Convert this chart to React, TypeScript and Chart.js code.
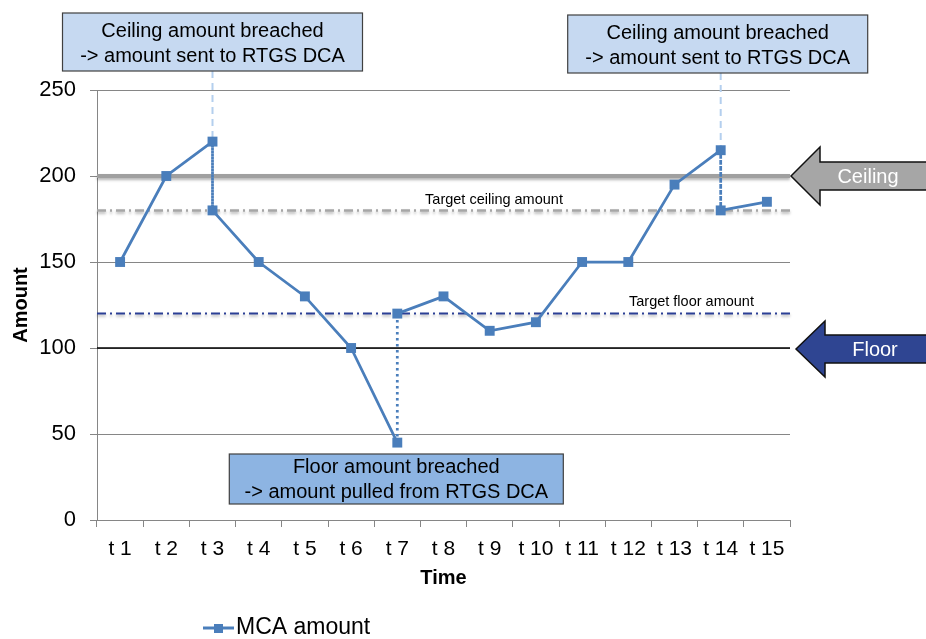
import React, { useEffect, useRef } from 'react';
import { Chart, registerables } from 'chart.js';

Chart.register(...registerables);

// ---------- data ----------
const categories = ['t 1', 't 2', 't 3', 't 4', 't 5', 't 6', 't 7', 't 8', 't 9', 't 10', 't 11', 't 12', 't 13', 't 14', 't 15'];
const pointTimes = ['t 1', 't 2', 't 3', 't 3', 't 4', 't 5', 't 6', 't 7', 't 7', 't 8', 't 9', 't 10', 't 11', 't 12', 't 13', 't 14', 't 14', 't 15'];
const mcaAmounts = [150, 200, 220, 180, 150, 130, 100, 45, 120, 130, 110, 115, 150, 150, 195, 215, 180, 185];
const seriesName = 'MCA amount';
const yMin = 0;
const yMax = 250;
const yStep = 50;
const ceilingAmount = 200;
const targetCeilingAmount = 180;
const targetFloorAmount = 120;
const floorAmount = 100;
const breachCeilingTimes = ['t 3', 't 14'];
const breachFloorTime = 't 7';
const ceilingBoxLines = ['Ceiling amount breached', '-> amount sent to RTGS DCA'];
const floorBoxLines = ['Floor amount breached', '-> amount pulled from RTGS DCA'];

const FONT = '"Liberation Sans", Arial, sans-serif';
const SERIES_COLOR = '#4a7ebb';

const overlayPlugin = {
  id: 'overlay',
  beforeDatasetsDraw(chart: any) {
    const { ctx, chartArea: a, scales } = chart;
    const y = scales.y;
    const hline = (v: number, color: string, width: number, dash: number[], shadow: boolean) => {
      const py = y.getPixelForValue(v);
      ctx.save();
      if (shadow) {
        ctx.shadowColor = 'rgba(0,0,0,0.3)';
        ctx.shadowBlur = 3;
        ctx.shadowOffsetY = 2;
      }
      ctx.strokeStyle = color;
      ctx.lineWidth = width;
      ctx.setLineDash(dash);
      ctx.beginPath();
      ctx.moveTo(a.left, py);
      ctx.lineTo(a.right, py);
      ctx.stroke();
      ctx.restore();
    };
    hline(floorAmount, '#000000', 1.3, [], false);
    hline(targetFloorAmount, '#2b3f95', 2, [9, 4, 2, 4], true);
    hline(targetCeilingAmount, '#a6a6a6', 2.5, [9, 4, 2, 4], true);
    hline(ceilingAmount, '#a0a0a0', 4, [], true);

    ctx.save();
    ctx.fillStyle = '#000';
    ctx.font = `14.5px ${FONT}`;
    ctx.textBaseline = 'middle';
    ctx.textAlign = 'center';
    ctx.fillText('Target ceiling amount', 494, y.getPixelForValue(targetCeilingAmount) - 10);
    ctx.textAlign = 'left';
    ctx.fillText('Target floor amount', 629, y.getPixelForValue(targetFloorAmount) - 12);
    ctx.restore();

    // connectors from ceiling boxes to breach points
    const meta = chart.getDatasetMeta(0);
    ctx.save();
    ctx.strokeStyle = '#b4cfee';
    ctx.lineWidth = 2;
    ctx.setLineDash([7, 5]);
    breachCeilingTimes.forEach((t, i) => {
      const idx = pointTimes.indexOf(t);
      const p = meta.data[idx];
      const top = i === 0 ? 71 : 73;
      ctx.beginPath();
      ctx.moveTo(p.x, top);
      ctx.lineTo(p.x, p.y);
      ctx.stroke();
    });
    ctx.restore();
  },
  afterDraw(chart: any) {
    const { ctx, scales } = chart;
    const x = scales.x;
    const y = scales.y;

    // arrows
    const arrow = (tipX: number, cy: number, headX: number, headHalf: number, shaftHalf: number, fill: string, label: string, textX: number) => {
      ctx.save();
      ctx.beginPath();
      ctx.moveTo(tipX, cy);
      ctx.lineTo(headX, cy - headHalf);
      ctx.lineTo(headX, cy - shaftHalf);
      ctx.lineTo(930, cy - shaftHalf);
      ctx.lineTo(930, cy + shaftHalf);
      ctx.lineTo(headX, cy + shaftHalf);
      ctx.lineTo(headX, cy + headHalf);
      ctx.closePath();
      ctx.fillStyle = fill;
      ctx.fill();
      ctx.strokeStyle = '#111';
      ctx.lineWidth = 1.5;
      ctx.stroke();
      ctx.fillStyle = '#fff';
      ctx.font = `20px ${FONT}`;
      ctx.textAlign = 'center';
      ctx.textBaseline = 'middle';
      ctx.fillText(label, textX, cy + 1);
      ctx.restore();
    };
    const cy = y.getPixelForValue(ceilingAmount);
    arrow(791, cy, 820, 29, 14, '#a6a6a6', 'Ceiling', 868);
    const fy = y.getPixelForValue(floorAmount);
    arrow(796, fy + 1, 825, 28, 14, '#2f4592', 'Floor', 875);

    // boxes
    const box = (cx: number, top: number, w: number, h: number, fill: string, lines: string[], lineYs: number[]) => {
      ctx.save();
      ctx.fillStyle = fill;
      ctx.fillRect(cx - w / 2, top, w, h);
      ctx.strokeStyle = '#404040';
      ctx.lineWidth = 1.2;
      ctx.strokeRect(cx - w / 2, top, w, h);
      ctx.fillStyle = '#000';
      ctx.font = `20px ${FONT}`;
      ctx.textAlign = 'center';
      ctx.textBaseline = 'middle';
      lines.forEach((l, i) => ctx.fillText(l, cx, lineYs[i]));
      ctx.restore();
    };
    const c1 = x.getPixelForValue(categories.indexOf(breachCeilingTimes[0]));
    const c2 = x.getPixelForValue(categories.indexOf(breachCeilingTimes[1]));
    const c3 = x.getPixelForValue(categories.indexOf(breachFloorTime));
    box(c1, 13, 300, 58, '#c6d9f1', ceilingBoxLines, [31, 56]);
    box(c2 - 3, 15, 300, 58, '#c6d9f1', ceilingBoxLines, [33, 58]);
    box(c3 - 1, 454, 334, 50, '#8db4e2', floorBoxLines, [467, 492]);

    // legend
    ctx.save();
    ctx.strokeStyle = SERIES_COLOR;
    ctx.lineWidth = 3;
    ctx.beginPath();
    ctx.moveTo(203, 628);
    ctx.lineTo(234, 628);
    ctx.stroke();
    ctx.fillStyle = SERIES_COLOR;
    ctx.fillRect(214, 624, 9, 9);
    ctx.fillStyle = '#000';
    ctx.font = `23px ${FONT}`;
    ctx.textAlign = 'left';
    ctx.textBaseline = 'middle';
    ctx.fillText(seriesName, 236, 628);
    ctx.restore();
  },
};

export default function App() {
  const ref = useRef<HTMLCanvasElement>(null);
  useEffect(() => {
    if (!ref.current) return;
    const chart = new Chart(ref.current, {
      type: 'line',
      data: {
        labels: categories,
        datasets: [
          {
            label: seriesName,
            data: pointTimes.map((t, i) => ({ x: t, y: mcaAmounts[i] })) as any,
            borderColor: SERIES_COLOR,
            backgroundColor: SERIES_COLOR,
            borderWidth: 2.75,
            pointStyle: 'rect',
            pointRadius: 7,
            pointBorderWidth: 0,
            pointBackgroundColor: SERIES_COLOR,
            tension: 0,
            segment: {
              borderDash: (c: any) => (c.p0.parsed.x === c.p1.parsed.x ? [2.5, 3.5] : undefined),
            },
          },
        ],
      },
      options: {
        responsive: false,
        animation: false,
        devicePixelRatio: 1,
        layout: { padding: { left: 0, top: 90, right: 136, bottom: 0 } },
        plugins: { legend: { display: false }, tooltip: { enabled: false } },
        scales: {
          x: {
            type: 'category',
            labels: categories,
            offset: true,
            grid: { offset: true, drawOnChartArea: false, drawTicks: true, tickLength: 7, color: '#868686' },
            border: { color: '#868686', width: 1 },
            ticks: { font: { family: FONT, size: 21 }, color: '#000', padding: 10, autoSkip: false, maxRotation: 0 },
            title: { display: true, text: 'Time', font: { family: FONT, size: 20, weight: 'bold' }, color: '#000', padding: { top: 0, bottom: 49 } },
            afterFit(s: any) {
              s.height = 119;
            },
          },
          y: {
            min: yMin,
            max: yMax,
            ticks: { stepSize: yStep, font: { family: FONT, size: 22 }, color: '#000', padding: 14 },
            grid: { color: '#868686', tickLength: 7, drawTicks: true },
            border: { color: '#868686', width: 1 },
            title: { display: true, text: 'Amount', font: { family: FONT, size: 20, weight: 'bold' }, color: '#000', padding: { top: 9, bottom: 0 } },
            afterFit(s: any) {
              s.width = 97;
            },
          },
        },
      },
      plugins: [overlayPlugin],
    });
    return () => chart.destroy();
  }, []);
  return (
    <div style={{ position: 'fixed', left: 0, top: 0, width: 926, height: 639, background: '#fff' }}>
      <canvas ref={ref} width={926} height={639} style={{ display: 'block' }} />
    </div>
  );
}
